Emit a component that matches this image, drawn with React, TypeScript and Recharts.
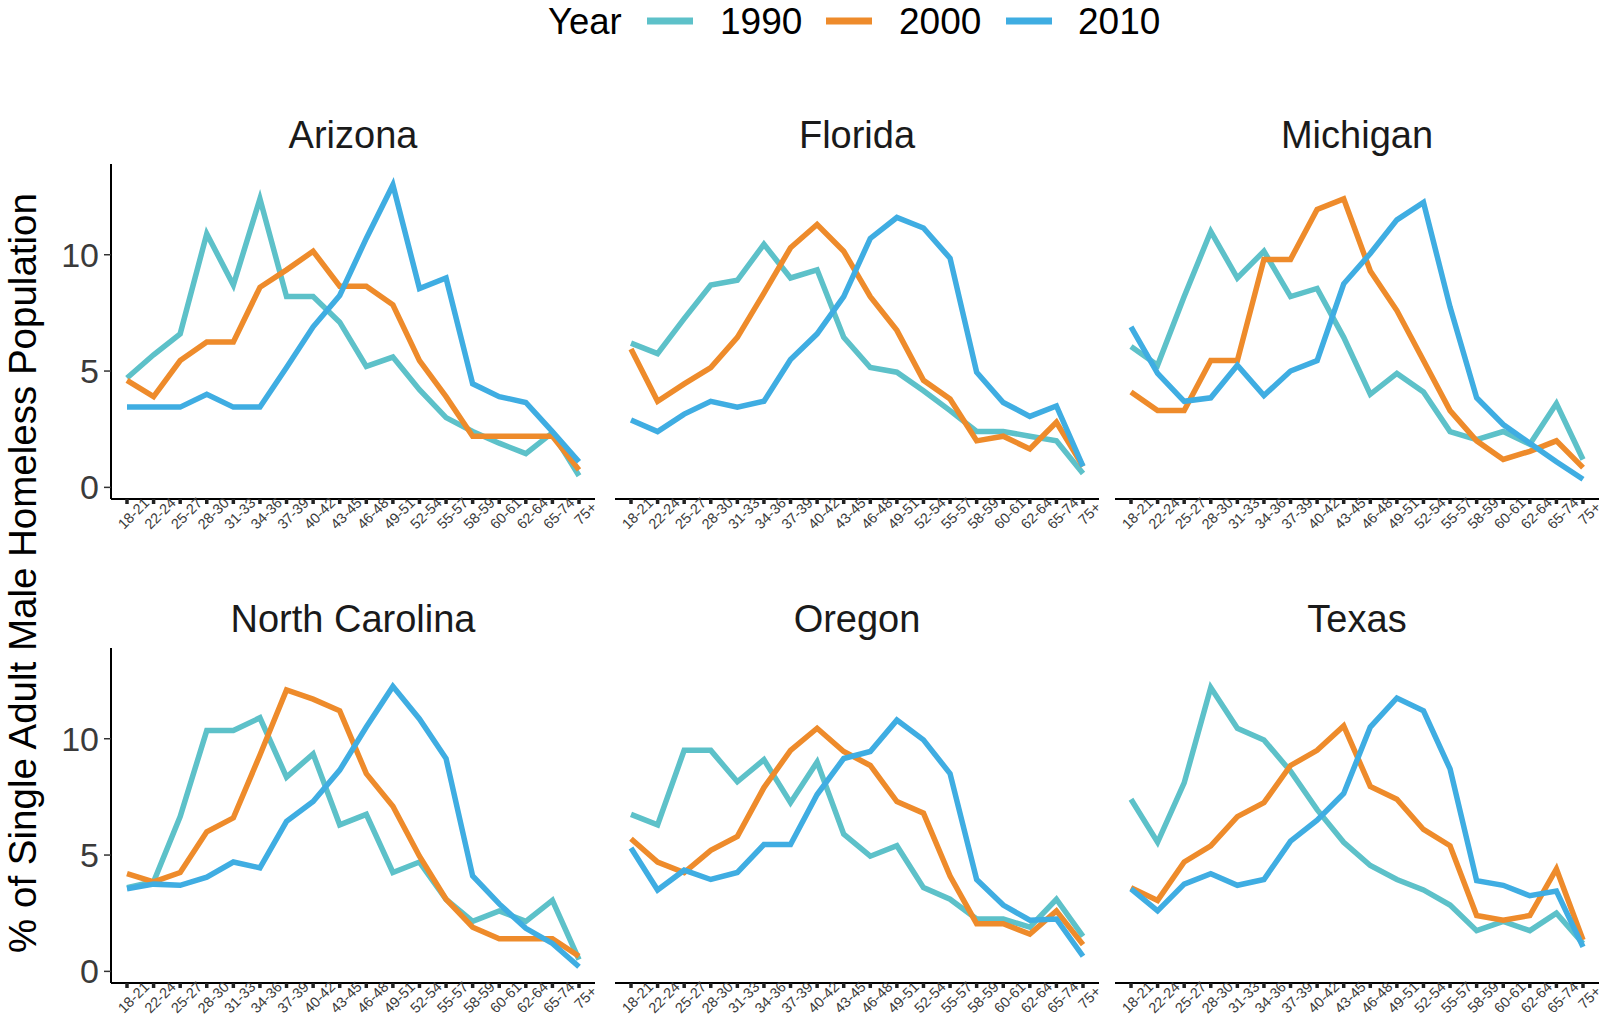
import React from "react";
import { LineChart, Line, XAxis, YAxis } from "recharts";

const ageGroups = ["18-21", "22-24", "25-27", "28-30", "31-33", "34-36", "37-39", "40-42", "43-45", "46-48", "49-51", "52-54", "55-57", "58-59", "60-61", "62-64", "65-74", "75+"];
const years = ["1990", "2000", "2010"];
const yearColors = ["#5DC1C9", "#EE8B2B", "#3FADE2"];
const yTicks = [0, 5, 10];
const stateNames = ["Arizona", "Florida", "Michigan", "North Carolina", "Oregon", "Texas"];

const az1990 = [4.7, 5.7, 6.6, 10.9, 8.7, 12.4, 8.2, 8.2, 7.1, 5.2, 5.6, 4.2, 3.0, 2.4, 1.9, 1.45, 2.35, 0.5];
const az2000 = [4.6, 3.9, 5.45, 6.25, 6.25, 8.6, 9.35, 10.15, 8.65, 8.65, 7.85, 5.45, 3.9, 2.2, 2.2, 2.2, 2.2, 0.75];
const az2010 = [3.45, 3.45, 3.45, 4.0, 3.45, 3.45, 5.15, 6.9, 8.25, 10.7, 13.0, 8.55, 9.0, 4.45, 3.9, 3.65, 2.4, 1.1];

const fl1990 = [6.2, 5.75, 7.25, 8.7, 8.9, 10.45, 9.0, 9.35, 6.45, 5.15, 4.95, 4.15, 3.3, 2.4, 2.4, 2.2, 2.0, 0.6];
const fl2000 = [5.95, 3.7, 4.45, 5.15, 6.45, 8.35, 10.3, 11.3, 10.15, 8.2, 6.75, 4.6, 3.8, 2.0, 2.2, 1.65, 2.8, 0.9];
const fl2010 = [2.9, 2.4, 3.15, 3.7, 3.45, 3.7, 5.5, 6.6, 8.2, 10.7, 11.6, 11.15, 9.85, 4.95, 3.65, 3.05, 3.5, 0.9];

const mi1990 = [6.05, 5.25, 8.2, 11.0, 9.0, 10.15, 8.2, 8.55, 6.45, 4.0, 4.9, 4.1, 2.4, 2.05, 2.4, 1.85, 3.6, 1.2];
const mi2000 = [4.1, 3.3, 3.3, 5.45, 5.45, 9.8, 9.8, 11.95, 12.4, 9.3, 7.6, 5.45, 3.3, 2.0, 1.2, 1.55, 2.0, 0.85];
const mi2010 = [6.9, 4.9, 3.7, 3.85, 5.25, 3.95, 5.0, 5.45, 8.75, 10.05, 11.5, 12.25, 7.75, 3.85, 2.7, 1.9, 1.1, 0.35];

const nc1990 = [3.6, 3.85, 6.65, 10.35, 10.35, 10.9, 8.35, 9.35, 6.3, 6.75, 4.25, 4.7, 3.1, 2.15, 2.6, 2.15, 3.05, 0.5];
const nc2000 = [4.2, 3.85, 4.25, 6.0, 6.6, 9.3, 12.1, 11.7, 11.2, 8.5, 7.1, 4.95, 3.1, 1.9, 1.4, 1.4, 1.4, 0.65];
const nc2010 = [3.55, 3.75, 3.7, 4.05, 4.7, 4.45, 6.45, 7.3, 8.65, 10.5, 12.25, 10.85, 9.15, 4.1, 2.9, 1.85, 1.2, 0.2];

const or1990 = [6.75, 6.3, 9.5, 9.5, 8.15, 9.1, 7.25, 9.0, 5.9, 4.95, 5.4, 3.6, 3.1, 2.25, 2.25, 1.9, 3.1, 1.5];
const or2000 = [5.7, 4.7, 4.25, 5.2, 5.8, 7.9, 9.5, 10.45, 9.45, 8.85, 7.3, 6.8, 4.1, 2.05, 2.05, 1.6, 2.6, 1.15];
const or2010 = [5.3, 3.5, 4.35, 3.95, 4.25, 5.45, 5.45, 7.6, 9.15, 9.45, 10.8, 9.95, 8.5, 3.95, 2.85, 2.2, 2.25, 0.65];

const tx1990 = [7.4, 5.55, 8.1, 12.2, 10.45, 9.95, 8.6, 6.95, 5.55, 4.55, 3.95, 3.5, 2.85, 1.75, 2.15, 1.75, 2.5, 1.2];
const tx2000 = [3.6, 3.05, 4.7, 5.4, 6.65, 7.25, 8.85, 9.5, 10.55, 7.95, 7.4, 6.1, 5.4, 2.4, 2.2, 2.4, 4.4, 1.35];
const tx2010 = [3.55, 2.6, 3.75, 4.2, 3.7, 3.95, 5.6, 6.5, 7.65, 10.5, 11.75, 11.2, 8.7, 3.9, 3.7, 3.25, 3.45, 1.05];

const stateSeries = [
  [az1990, az2000, az2010],
  [fl1990, fl2000, fl2010],
  [mi1990, mi2000, mi2010],
  [nc1990, nc2000, nc2010],
  [or1990, or2000, or2010],
  [tx1990, tx2000, tx2010],
];

const FONT = '"Liberation Sans", Arial, Helvetica, sans-serif';
const PLOT_W = 484;
const PLOT_H = 335;
const X_AXIS_H = 45;
const Y_AXIS_W = 70;
const colLeft = [111, 615, 1115];
const rowTop = [164, 648];

function buildRows(series: number[][]) {
  return ageGroups.map((age, i) => {
    const row: any = { age };
    years.forEach((y, k) => {
      row[y] = series[k][i];
    });
    return row;
  });
}

function AgeTick(props: any) {
  const { x, y, payload } = props;
  const ax = x + 10;
  const ay = y + 11;
  return (
    <text
      x={ax}
      y={ay}
      transform={`rotate(-45 ${ax} ${ay})`}
      textAnchor="middle"
      fontSize={14.5}
      fill="#3a3a3a"
      fontFamily={FONT}
    >
      {payload.value}
    </text>
  );
}

function Panel({ idx }: { idx: number }) {
  const col = idx % 3;
  const row = Math.floor(idx / 3);
  const showY = col === 0;
  const left = colLeft[col] - (showY ? Y_AXIS_W : 0);
  const top = rowTop[row];
  const width = PLOT_W + (showY ? Y_AXIS_W : 0);
  const data = buildRows(stateSeries[idx]);
  return (
    <div style={{ position: "absolute", left, top }}>
      <LineChart width={width} height={PLOT_H + X_AXIS_H} data={data} margin={{ top: 0, right: 0, bottom: 0, left: 0 }}>
        <XAxis
          dataKey="age"
          interval={0}
          padding={{ left: 16, right: 16 }}
          height={X_AXIS_H}
          tick={<AgeTick />}
          tickSize={5}
          tickLine={{ stroke: "#222", strokeWidth: 3.5 }}
          axisLine={{ stroke: "#000", strokeWidth: 2 }}
        />
        <YAxis
          hide={!showY}
          width={Y_AXIS_W}
          type="number"
          domain={[-0.5, 13.9]}
          ticks={yTicks}
          allowDataOverflow
          tickSize={7}
          tickMargin={5}
          tick={{ fontSize: 34, fill: "#3a3a3a", fontFamily: FONT }}
          tickLine={{ stroke: "#333", strokeWidth: 1.5 }}
          axisLine={{ stroke: "#000", strokeWidth: 2 }}
        />
        {years.map((y, k) => (
          <Line
            key={y}
            type="linear"
            dataKey={y}
            stroke={yearColors[k]}
            strokeWidth={5.5}
            dot={false}
            activeDot={false}
            isAnimationActive={false}
          />
        ))}
      </LineChart>
    </div>
  );
}

const legendTextX = [720, 899, 1078];
const legendKeyX = [647, 826, 1006];

export default function App() {
  return (
    <div style={{ position: "absolute", left: 0, top: 0, width: 1606, height: 1028, background: "#fff", overflow: "hidden" }}>
      <style>{`.recharts-surface{overflow:visible}`}</style>
      {stateNames.map((s, i) => (
        <Panel key={s} idx={i} />
      ))}
      <svg width={1606} height={1028} style={{ position: "absolute", left: 0, top: 0, pointerEvents: "none" }}>
        <text x={548} y={34} fontSize={36.5} fontFamily={FONT} fill="#000">Year</text>
        {years.map((y, k) => (
          <g key={y}>
            <line x1={legendKeyX[k]} x2={legendKeyX[k] + 46} y1={21} y2={21} stroke={yearColors[k]} strokeWidth={7} />
            <text x={legendTextX[k]} y={34} fontSize={37} fontFamily={FONT} fill="#000">{y}</text>
          </g>
        ))}
        {stateNames.map((s, i) => {
          const col = i % 3;
          const row = Math.floor(i / 3);
          return (
            <text key={s} x={colLeft[col] + PLOT_W / 2} y={rowTop[row] - 16} textAnchor="middle" fontSize={38} fontFamily={FONT} fill="#1a1a1a">
              {s}
            </text>
          );
        })}
        <text x={36} y={573} transform="rotate(-90 36 573)" textAnchor="middle" fontSize={38.5} fontFamily={FONT} fill="#000">
          % of Single Adult Male Homeless Population
        </text>
      </svg>
    </div>
  );
}
